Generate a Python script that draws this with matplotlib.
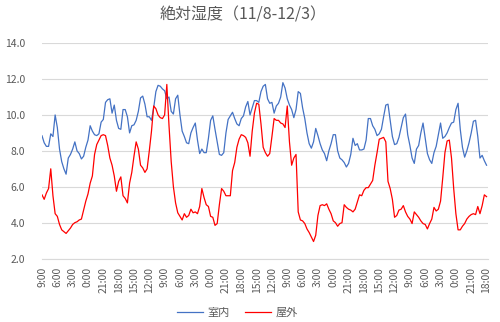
import numpy as np
import matplotlib as mpl
mpl.use('Agg')
import matplotlib.pyplot as plt

plt.rcParams['font.family'] = ['Noto Sans CJK JP', 'DejaVu Sans']

# 3-hourly readings from 11/8 9:00 onwards (hour offsets 0, 3, 6, ...)
indoor = [
    8.84, 8.45, 8.25, 8.25, 8.95, 8.8, 10.0, 9.3, 8.1, 7.4, 7.0, 6.7, 7.6, 7.8, 8.1, 8.5, 8.0,
    7.85, 7.55, 7.7, 8.2, 8.6, 9.4, 9.1, 8.9, 8.85, 8.95, 9.6, 9.75, 10.7, 10.85, 10.9, 10.1,
    10.55, 9.7, 9.25, 9.2, 10.3, 10.3, 9.9, 9.0, 9.4, 9.45, 9.7, 10.2, 10.95, 11.05, 10.6, 9.9,
    9.9, 9.7, 10.4, 11.3, 11.65, 11.6, 11.45, 11.35, 10.9, 11.0, 10.2, 10.05, 10.9, 11.1, 10.0,
    9.1, 8.8, 8.45, 8.4,
    9.0, 9.3, 9.55, 8.6, 7.85, 8.1, 7.9, 7.9, 8.7, 9.7, 9.95, 9.2, 8.5, 7.8, 7.75, 7.9, 9.0,
    9.75, 9.95, 10.15, 9.8, 9.5, 9.4, 9.8, 9.95, 10.45, 10.75, 10.0, 10.4, 10.8, 10.8, 10.7,
    11.3, 11.6,
    11.7, 10.9, 10.65, 10.7, 10.1, 10.5, 10.65, 11.0, 11.8, 11.5, 10.9, 10.55, 10.3, 9.85, 10.3,
    11.3, 11.2, 10.4, 9.8, 9.0, 8.4, 8.15, 8.5, 9.25, 8.85, 8.4, 8.05, 7.85, 7.45, 8.0, 8.4,
    8.9, 8.9, 8.0,
    7.6, 7.5, 7.35, 7.1, 7.3, 7.8, 8.7, 8.3, 8.4, 8.05, 8.05, 8.1, 8.6, 9.8, 9.8, 9.4, 9.2,
    8.85, 8.95, 9.2, 9.9, 10.55, 10.6, 9.7, 8.8, 8.35, 8.4, 8.75, 9.3, 9.85, 10.05, 8.9, 8.3, 7.6,
    7.3, 8.1, 8.3, 9.0, 9.55, 8.7, 7.85, 7.5, 7.3, 7.9, 8.25, 8.9, 9.55, 8.7, 8.8, 9.0, 9.3,
    9.55, 9.6, 10.3, 10.65, 9.2, 8.2, 7.65, 8.0, 8.45, 9.0, 9.65, 9.7, 8.8, 7.6, 7.75, 7.45, 7.2,
]
outdoor = [
    5.55, 5.3, 5.65, 5.9, 7.0, 5.5, 4.5, 4.35, 3.9, 3.6, 3.5, 3.4, 3.55, 3.7, 3.9, 4.0, 4.05,
    4.15, 4.2, 4.7, 5.2, 5.6, 6.2, 6.6, 7.8, 8.35, 8.6, 8.85, 8.9, 8.85, 8.3, 7.6, 7.2,
    6.6, 5.75, 6.3, 6.55, 5.5, 5.35, 5.1, 6.2, 6.8, 7.7, 8.5, 8.1, 7.2, 7.05, 6.8, 7.0, 8.0,
    9.1, 10.5, 10.35, 10.0, 9.85, 9.8, 10.0, 11.7, 9.4, 7.4, 6.0, 5.1, 4.55, 4.35, 4.15, 4.5,
    4.3, 4.4,
    4.75, 4.55, 4.6, 4.5, 4.9, 5.9, 5.4, 5.0, 4.9, 4.35, 4.3, 3.85, 3.95, 5.0, 5.9, 5.75, 5.5,
    5.5, 5.5, 6.9, 7.35, 8.2, 8.65, 8.9, 8.85, 8.75, 8.45, 7.7, 9.1, 10.1, 10.65, 10.6, 9.5, 8.2,
    7.9, 7.7, 7.85, 8.8, 9.8, 9.7, 9.7, 9.55, 9.5, 9.3, 10.5, 8.5, 7.2, 7.6, 7.8, 4.6, 4.15,
    4.1, 3.95, 3.65, 3.45, 3.2, 2.95, 3.3, 4.4, 4.95, 5.0, 4.95, 5.05, 4.75, 4.5, 4.1, 4.0, 3.8,
    3.95, 4.0, 5.0, 4.85, 4.75, 4.7, 4.6, 4.75, 5.15, 5.55, 5.5, 5.8, 5.95, 5.95, 6.15, 6.35,
    7.2, 7.9, 8.65, 8.7, 8.75, 8.5, 6.3, 5.9, 5.3, 4.3, 4.4, 4.7, 4.75, 4.95, 4.6, 4.35, 4.2,
    3.95,
    4.6, 4.45, 4.3, 4.1, 3.95, 3.9, 3.65, 3.95, 4.2, 4.85, 4.65, 4.75, 5.2, 6.5, 7.9, 8.55, 8.6,
    7.6, 5.9, 4.5, 3.6, 3.6, 3.8, 3.95, 4.2, 4.35, 4.45, 4.5, 4.45, 4.9, 4.5, 4.95, 5.55, 5.45,
]
tick_labels = [
    '9:00', '6:00', '3:00', '0:00', '21:00', '18:00', '15:00', '12:00',
    '9:00', '6:00', '3:00', '0:00', '21:00', '18:00', '15:00', '12:00',
    '9:00', '6:00', '3:00', '0:00', '21:00', '18:00', '15:00', '12:00',
    '9:00', '6:00', '3:00', '0:00', '21:00', '18:00',
]

hours = np.arange(len(indoor)) * 3
ticks = np.arange(len(tick_labels)) * 21

fig = plt.figure(figsize=(5, 3.22), dpi=100)
ax = fig.add_axes([0.084, 0.197, 0.892, 0.669])

ax.plot(hours, indoor, color='#4472C4', lw=0.9, label='室内')
ax.plot(hours, outdoor, color='#FF0000', lw=0.9, label='屋外')

ax.set_xlim(0, 611)
ax.set_ylim(2, 14)
ax.set_yticks(np.arange(2, 14.1, 2))
ax.set_yticklabels(['%.1f' % v for v in np.arange(2, 14.1, 2)])
ax.set_xticks(ticks)
ax.set_xticklabels(tick_labels, rotation=90)

ax.grid(axis='y', color='#d9d9d9', lw=0.8)
ax.set_axisbelow(True)
for s in ['top', 'right', 'left']:
    ax.spines[s].set_visible(False)
ax.spines['bottom'].set_color('#d9d9d9')
ax.tick_params(axis='both', length=0, colors='#595959', labelsize=7.5)
ax.tick_params(axis='y', pad=12)
ax.tick_params(axis='x', pad=6)

fig.text(0.487, 0.953, '絶対湿度（11/8-12/3）', ha='center', va='center',
         fontsize=11.5, color='#595959')

leg = fig.legend(loc='center', bbox_to_anchor=(0.475, 0.03), ncol=2, frameon=False,
                 fontsize=8, handlelength=2.3, columnspacing=1.4, handletextpad=0.4)
for t in leg.get_texts():
    t.set_color('#595959')

fig.savefig('out.png', dpi=100)
